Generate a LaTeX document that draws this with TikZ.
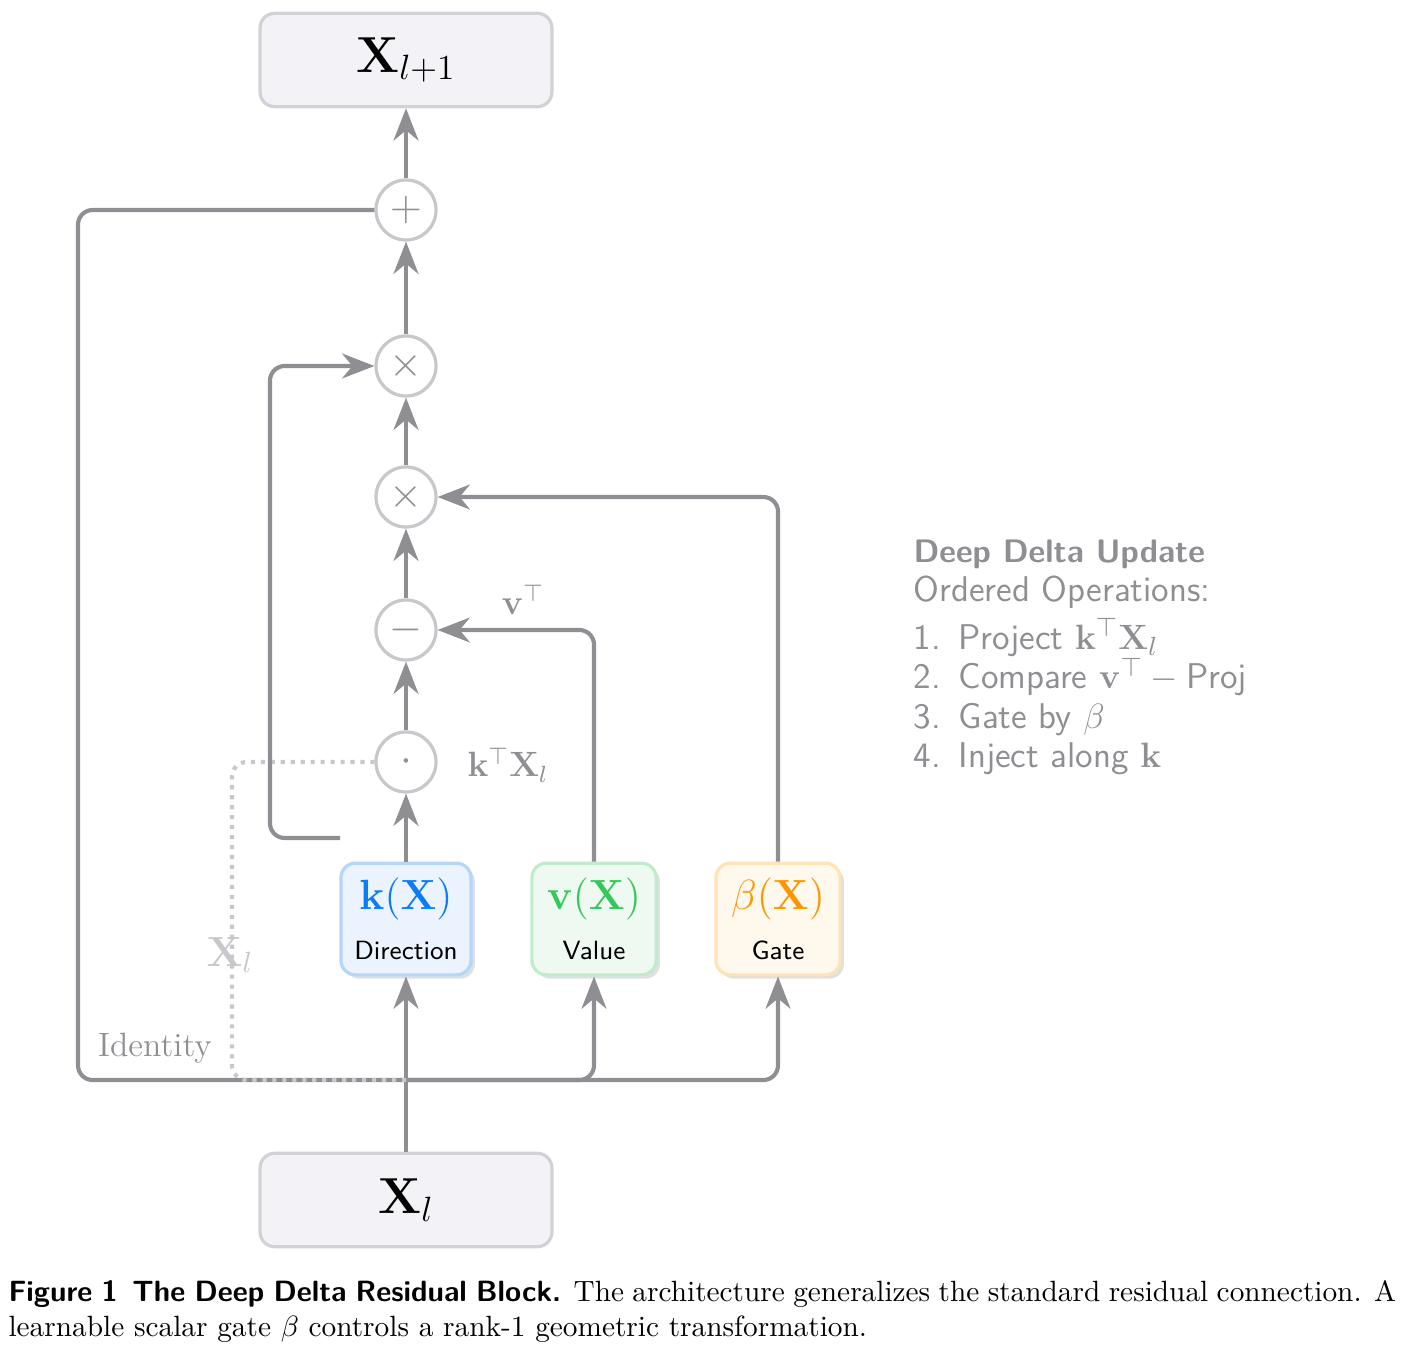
\documentclass[tikz,border=0pt]{standalone}
\usepackage{amsmath}
\usetikzlibrary{arrows.meta,shadows,positioning}

\definecolor{linegray}{HTML}{8E8E93}
\definecolor{circgray}{HTML}{C7C7CC}
\definecolor{boxfill}{HTML}{F2F2F7}
\definecolor{boxdraw}{HTML}{D1D1D6}
\definecolor{kblue}{HTML}{0A7DF5}
\definecolor{kfill}{HTML}{EBF3FE}
\definecolor{kdraw}{HTML}{B5D6FB}
\definecolor{vgreen}{HTML}{34C759}
\definecolor{vfill}{HTML}{EEF9F1}
\definecolor{vdraw}{HTML}{C0ECCB}
\definecolor{borange}{HTML}{FF9500}
\definecolor{bfill}{HTML}{FFF8EC}
\definecolor{bdraw}{HTML}{FFE2B5}

\tikzset{
  state/.style={draw=boxdraw, fill=boxfill, line width=1.1pt, rounded corners=5pt,
    minimum width=3.5cm, minimum height=1.12cm, font=\LARGE},
  proj/.style={line width=1.1pt, rounded corners=5pt, minimum height=1.34cm,
    align=center, inner sep=2pt,
    drop shadow={shadow xshift=1.3pt, shadow yshift=-1.3pt, fill=black!12, opacity=1}},
  op/.style={circle, draw=circgray, fill=white, line width=1.1pt, minimum size=0.72cm,
    inner sep=0pt, text=linegray, font=\Large},
  flow/.style={draw=linegray, line width=1.4pt, rounded corners=5pt,
    -{Stealth[length=11pt, width=8.5pt, inset=3.5pt]}},
  wire/.style={draw=linegray, line width=1.4pt, rounded corners=5pt},
  idwire/.style={draw=circgray, line width=1.4pt, dotted, rounded corners=5pt},
  lbl/.style={text=linegray, font=\large},
}

\begin{document}
\begin{tikzpicture}[x=0.012cm, y=-0.012cm]
\useasboundingbox (0,0) rectangle (1404,1356);

% states
\node (xout) at (406,60) [state]{$\mathbf{X}_{l+1}$};
\node (xin) at (406,1200) [state]{$\mathbf{X}_{l}$};

% projections
\node (kx) at (406,919) [proj, draw=kdraw, fill=kfill, minimum width=1.56cm]
  {{\Large\color{kblue}$\mathbf{k}(\mathbf{X})$}\\[5pt]{\sffamily\small Direction}};
\node (vx) at (594,919) [proj, draw=vdraw, fill=vfill, minimum width=1.49cm]
  {{\Large\color{vgreen}$\mathbf{v}(\mathbf{X})$}\\[5pt]{\sffamily\small Value}};
\node (bx) at (778,919) [proj, draw=bdraw, fill=bfill, minimum width=1.49cm]
  {{\Large\color{borange}$\beta(\mathbf{X})$}\\[5pt]{\sffamily\small Gate}};

% operations
\node (dot) at (406,762) [op]{$\cdot$};
\node (minus) at (406,630) [op]{$-$};
\node (times2) at (406,497) [op]{$\times$};
\node (times1) at (406,366) [op]{$\times$};
\node (plus) at (406,210) [op]{$+$};

\coordinate (br) at (406,1080);
\coordinate (idc) at (78,1080);
\coordinate (dotc) at (232,1080);
\coordinate (ks) at (340,838);
\coordinate (kc) at (270,838);

% input and branches
\draw [flow] (xin) -- (kx);
\draw [flow] (br) -| (vx);
\draw [flow] (br) -| (bx);
\draw [wire] (br) -- (idc) |- (plus);
\draw [idwire] (br) -- (dotc) |- (dot);

% main column
\draw [flow] (kx) -- (dot);
\draw [flow] (dot) -- (minus);
\draw [flow] (minus) -- (times2);
\draw [flow] (times2) -- (times1);
\draw [flow] (times1) -- (plus);
\draw [flow] (plus) -- (xout);

\draw [flow] (ks) -- (kc) |- (times1);
\draw [flow] (vx) |- (minus);
\draw [flow] (bx) |- (times2);

% labels
\node (lkx) at (508,765) [lbl]{$\mathbf{k}^{\top}\mathbf{X}_l$};
\node (lv) at (523,600) [lbl]{$\mathbf{v}^{\top}$};
\node (lxl) at (230,955) [text=circgray, font=\Large]{$\mathbf{X}_l$};
\node (lid) at (155,1048) [text=linegray, font=\fontsize{11.5}{13}\selectfont]{Identity};

\node (legend) at (913,539) [anchor=north west, align=left, inner sep=0pt, text=linegray,
  font=\sffamily\fontsize{12.2}{13.4}\selectfont]
  {{\fontsize{11.1}{13.4}\selectfont\bfseries Deep Delta Update}\\
   Ordered Operations:\\[3pt]
   1.\enspace Project $\mathbf{k}^{\top}\mathbf{X}_l$\\
   2.\enspace Compare $\mathbf{v}^{\top}-\text{Proj}$\\
   3.\enspace Gate by $\beta$\\
   4.\enspace Inject along $\mathbf{k}$};

% caption
\node (cap) at (8,1280) [anchor=north west, inner sep=0pt, text width=473.5pt, align=justify]
  {{\sffamily\bfseries Figure 1\hspace{0.5em}The Deep Delta Residual Block.} The architecture
   generalizes the standard residual connection. A\linebreak learnable scalar gate $\beta$
   controls a rank-1 geometric transformation.};
\end{tikzpicture}
\end{document}
